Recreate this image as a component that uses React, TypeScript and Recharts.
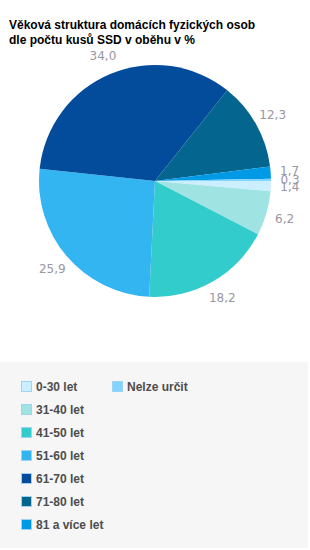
import { Cell, Pie, PieChart } from 'recharts';

const categories = [
  '0-30 let',
  '31-40 let',
  '41-50 let',
  '51-60 let',
  '61-70 let',
  '71-80 let',
  '81 a více let',
  'Nelze určit',
];
const shares = [1.4, 6.2, 18.2, 25.9, 34.0, 12.3, 1.7, 0.3];
const colors = [
  '#ccefff',
  '#a0e3e3',
  '#33cccc',
  '#33b5f2',
  '#034c9b',
  '#04658f',
  '#0099e6',
  '#80d4ff',
];

const title = [
  'Věková struktura domácích fyzických osob',
  'dle počtu kusů SSD v oběhu v %',
];

const data = categories.map((name, i) => ({ name, value: shares[i] }));

const fmt = (v: number) => v.toFixed(1).replace('.', ',');

const RADIAN = Math.PI / 180;

type LabelProps = {
  cx?: number;
  cy?: number;
  midAngle?: number;
  outerRadius?: number;
  value?: number;
};

const SliceLabel = ({ cx = 0, cy = 0, midAngle = 0, outerRadius = 0, value = 0 }: LabelProps) => {
  const r = outerRadius + 19;
  const x = cx + r * Math.cos(-midAngle * RADIAN);
  const y = cy + r * Math.sin(-midAngle * RADIAN);
  return (
    <text
      x={x}
      y={y}
      textAnchor="middle"
      dominantBaseline="central"
      fill="#9a96a3"
      fontSize={12}
      fontFamily="DejaVu Sans, Verdana, sans-serif"
    >
      {fmt(value)}
    </text>
  );
};

// first column holds 7 items, the rest goes to the second column
const legendColumns = [categories.slice(0, 7), categories.slice(7)];

export default function App() {
  return (
    <div
      style={{
        position: 'absolute',
        left: 0,
        top: 0,
        width: 310,
        height: 550,
        background: '#fff',
        fontFamily: 'Liberation Sans, Arial, sans-serif',
      }}
    >
      <div
        style={{
          position: 'absolute',
          left: 9,
          top: 18,
          fontSize: 12,
          lineHeight: '15px',
          fontWeight: 'bold',
          color: '#000',
        }}
      >
        {title.map((t) => (
          <div key={t}>{t}</div>
        ))}
      </div>

      <div style={{ position: 'absolute', left: 0, top: 0 }}>
        <PieChart width={310} height={362} margin={{ top: 0, right: 0, bottom: 0, left: 0 }}>
          <Pie
            data={data}
            dataKey="value"
            nameKey="name"
            cx={155}
            cy={181}
            outerRadius={116}
            startAngle={0}
            endAngle={-360}
            stroke="none"
            label={SliceLabel}
            labelLine={false}
            isAnimationActive={false}
          >
            {data.map((d, i) => (
              <Cell key={d.name} fill={colors[i]} />
            ))}
          </Pie>
        </PieChart>
      </div>

      <div
        style={{
          position: 'absolute',
          left: 0,
          top: 362,
          width: 308,
          height: 186,
          background: '#f6f6f6',
        }}
      >
        {legendColumns.map((col, c) => (
          <div
            key={c}
            style={{ position: 'absolute', left: c === 0 ? 21 : 112, top: 13 }}
          >
            {col.map((name) => {
              const i = categories.indexOf(name);
              return (
                <div
                  key={name}
                  style={{
                    display: 'flex',
                    alignItems: 'center',
                    height: 23,
                    fontSize: 12,
                    fontWeight: 'bold',
                    color: '#4d4d4d',
                    whiteSpace: 'nowrap',
                  }}
                >
                  <span
                    style={{
                      display: 'inline-block',
                      width: 9,
                      height: 9,
                      background: colors[i],
                      border: '1px solid #9fd3f3',
                      marginRight: 4,
                    }}
                  />
                  {name}
                </div>
              );
            })}
          </div>
        ))}
      </div>
    </div>
  );
}
